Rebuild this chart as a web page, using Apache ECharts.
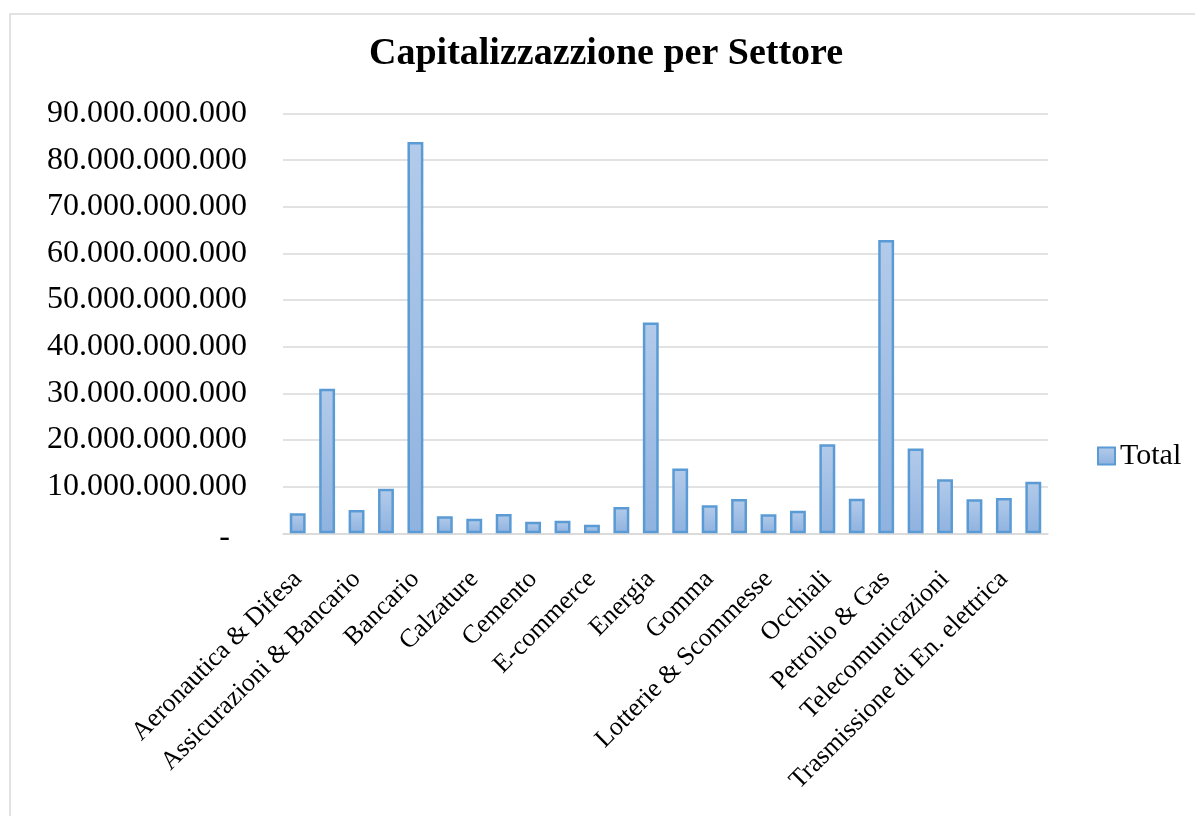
<!DOCTYPE html>
<html>
<head>
<meta charset="utf-8">
<script src="https://cdn.jsdelivr.net/npm/echarts@6/dist/echarts.min.js"></script>
<style>
html,body{margin:0;padding:0;background:#fff;}
#chart{width:1195px;height:816px;}
</style>
</head>
<body>
<div id="chart"></div>
<script>
const categories = [
  'Aeronautica & Difesa', 'Assicurazioni', 'Assicurazioni & Bancario', 'Automotive',
  'Bancario', 'Beni di Consumo', 'Calzature', 'Cavi', 'Cemento', 'Costruzioni',
  'E-commerce', 'Elettronica', 'Energia', 'Farmaceutico', 'Gomma', 'Infrastrutture',
  'Lotterie & Scommesse', 'Lusso', 'Occhiali', 'Pagamenti', 'Petrolio & Gas',
  'Semiconduttori', 'Telecomunicazioni', 'Torri', 'Trasmissione di En. elettrica', 'Utilities'
];
const totalValues = [
  4.3e9, 31.0e9, 5.0e9, 9.56e9, 83.9e9, 3.64e9, 3.13e9, 4.14e9, 2.49e9, 2.7e9,
  1.84e9, 5.64e9, 45.2e9, 13.9e9, 6.0e9, 7.35e9, 4.07e9, 4.84e9, 19.07e9, 7.42e9,
  62.9e9, 18.2e9, 11.6e9, 7.3e9, 7.56e9, 11.06e9
];
const seriesName = 'Total';
const titleText = 'Capitalizzazzione per Settore';

const serif = '"Liberation Serif", "DejaVu Serif", serif';
const chart = echarts.init(document.getElementById('chart'), null, {renderer: 'canvas'});

const barFill = new echarts.graphic.LinearGradient(0, 0, 0, 1, [
  {offset: 0, color: '#b3cbea'},
  {offset: 1, color: '#8fb2df'}
]);

chart.setOption({
  animation: false,
  backgroundColor: '#ffffff',
  graphic: [{
    type: 'rect',
    shape: {x: 10, y: 14, width: 1400, height: 1000},
    style: {fill: 'none', stroke: '#d9d9d9', lineWidth: 1.5},
    silent: true,
    z: -1
  }],
  title: {
    text: titleText,
    left: 364,
    top: 30,
    textStyle: {fontFamily: serif, fontSize: 38, fontWeight: 'bold', color: '#000'}
  },
  legend: {
    data: [seriesName],
    left: 1092,
    top: 436,
    icon: 'rect',
    itemWidth: 17,
    itemHeight: 17,
    itemGap: 7,
    textStyle: {fontFamily: serif, fontSize: 30, color: '#000'}
  },
  grid: {left: 283, right: 147, top: 113.5, bottom: 282.7},
  xAxis: {
    type: 'category',
    data: categories,
    axisLine: {show: true, lineStyle: {color: '#d9d9d9', width: 1.5}},
    axisTick: {show: false},
    axisLabel: {
      interval: 1,
      rotate: 45,
      margin: 42,
      fontFamily: serif,
      fontSize: 26,
      color: '#000'
    }
  },
  yAxis: {
    type: 'value',
    min: 0,
    max: 90e9,
    interval: 10e9,
    axisLine: {show: false},
    axisTick: {show: false},
    splitLine: {lineStyle: {color: '#d9d9d9', width: 1.5}},
    axisLabel: {
      margin: 36,
      fontFamily: serif,
      fontSize: 32,
      color: '#000',
      formatter: function (v) {
        if (v === 0) return '{z|-}';
        return String(Math.round(v)).replace(/\B(?=(\d{3})+(?!\d))/g, '.');
      },
      rich: {
        z: {fontFamily: serif, fontSize: 32, color: '#000', padding: [8, 17, 0, 0]}
      }
    }
  },
  series: [{
    name: seriesName,
    type: 'bar',
    data: totalValues,
    barWidth: '54%',
    itemStyle: {color: barFill, borderColor: '#5b9bd5', borderWidth: 2.5}
  }]
});
</script>
</body>
</html>
